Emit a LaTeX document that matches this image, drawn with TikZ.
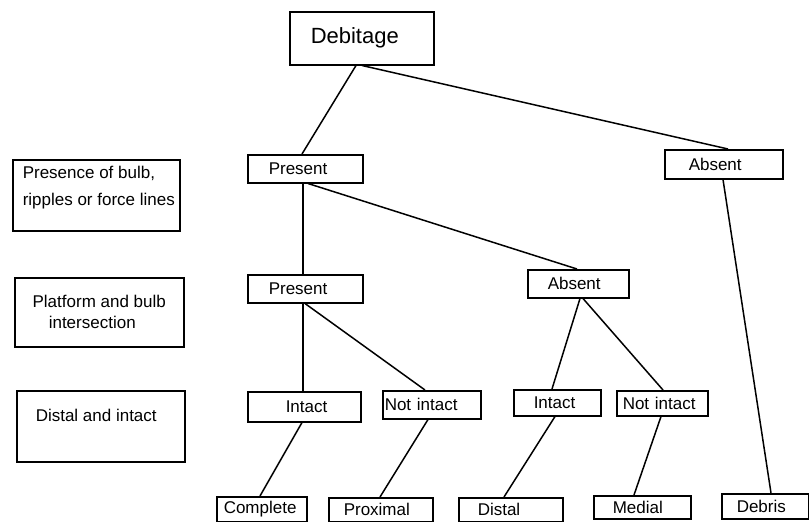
\documentclass[tikz,border=0pt]{standalone}
\usepackage{fontspec}
\setmainfont{Liberation Sans}
\begin{document}
\begin{tikzpicture}[x=1pt,y=-1pt,
  box/.style={draw, line width=1.5pt, inner sep=0pt, anchor=north west, align=left,
    font=\fontsize{17}{20}\selectfont},
  lab/.style={draw, line width=1.5pt, inner sep=0pt, anchor=north west,
    font=\fontsize{17}{20}\selectfont},
  conn/.style={line width=1.5pt}]
\fill[white] (0,0) rectangle (809,522);
\useasboundingbox (0,0) rectangle (809,522);

% level labels
\node[lab] (lab1) at (12,159) {\parbox[b][71pt][t]{167pt}{\leftskip=10pt\baselineskip=27pt\rule{0pt}{19pt}Presence of bulb,\\ripples or force lines}};
\node[lab] (lab2) at (14,277) {\parbox[b][69pt][t]{169pt}{\centering\baselineskip=21pt\rule{0pt}{30pt}Platform and bulb\\\hspace*{-14pt}intersection}};
\node[lab] (lab3) at (16,390) {\parbox[b][71pt][t]{168pt}{\leftskip=19pt\rule{0pt}{31pt}Distal and intact}};

% tree
\node[box, text width=144pt, minimum height=53pt, font=\fontsize{22}{26}\selectfont] (deb) at (289,11) {\hspace*{21pt}\raisebox{-3pt}{Debitage}};
\node[box, text width=115pt, minimum height=28pt] (pres1) at (247,154) {\hspace*{21pt}\raisebox{-2pt}{Present}};
\node[box, text width=118pt, minimum height=29pt] (abs1) at (664,149) {\hspace*{24pt}\raisebox{-1pt}{Absent}};
\node[box, text width=115pt, minimum height=28pt] (pres2) at (247,274) {\hspace*{21pt}\raisebox{-1pt}{Present}};
\node[box, text width=101pt, minimum height=28pt] (abs2) at (527,269) {\hspace*{20pt}Absent};
\node[box, text width=113pt, minimum height=30pt] (int1) at (247,391) {\hspace*{38pt}Intact};
\node[box, text width=98pt, minimum height=28pt] (ni1) at (382,390) {\hspace*{2pt}Not intact};
\node[box, text width=87pt, minimum height=26pt] (int2) at (513,389) {\hspace*{20pt}Intact};
\node[box, text width=91pt, minimum height=25pt] (ni2) at (616,390) {\hspace*{6pt}Not intact};
\node[box, text width=90pt, minimum height=25pt] (comp) at (216,496) {\hspace*{7pt}\raisebox{-2pt}{Complete}};
\node[box, text width=104pt, minimum height=24pt] (prox) at (328,497) {\hspace*{15pt}\raisebox{-1pt}{Proximal}};
\node[box, text width=104pt, minimum height=24pt] (dist) at (458,497) {\hspace*{19pt}Distal};
\node[box, text width=97pt, minimum height=23pt] (med) at (593,495) {\hspace*{19pt}Medial};
\node[box, text width=87pt, minimum height=25pt] (deb2) at (721,493) {\hspace*{15pt}Debris};

% connectors
\draw[conn] ([xshift=67pt]deb.south west) -- ([xshift=55pt]pres1.north west);
\draw[conn] ([xshift=73pt]deb.south west) -- ([xshift=64pt]abs1.north west);
\draw[conn] ([xshift=56pt]pres1.south west) -- ([xshift=56pt]pres2.north west);
\draw[conn] ([xshift=61pt]pres1.south west) -- ([xshift=50pt]abs2.north west);
\draw[conn] ([xshift=59pt]abs1.south west) -- ([xshift=50pt]deb2.north west);
\draw[conn] ([xshift=56pt]pres2.south west) -- ([xshift=56pt]int1.north west);
\draw[conn] ([xshift=58pt]pres2.south west) -- ([xshift=43pt]ni1.north west);
\draw[conn] ([xshift=53pt]abs2.south west) -- ([xshift=39pt]int2.north west);
\draw[conn] ([xshift=56pt]abs2.south west) -- ([xshift=47pt]ni2.north west);
\draw[conn] ([xshift=55pt]int1.south west) -- ([xshift=44pt]comp.north west);
\draw[conn] ([xshift=46pt]ni1.south west) -- ([xshift=52pt]prox.north west);
\draw[conn] ([xshift=42pt]int2.south west) -- ([xshift=46pt]dist.north west);
\draw[conn] ([xshift=45pt]ni2.south west) -- ([xshift=41pt]med.north west);
\end{tikzpicture}
\end{document}
